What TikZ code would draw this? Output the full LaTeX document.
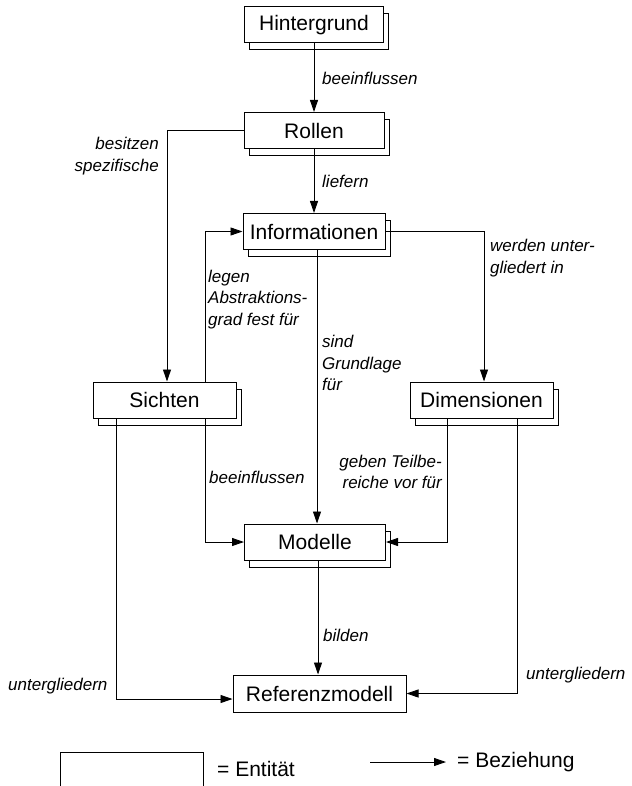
\documentclass[tikz,border=0pt]{standalone}
\usepackage{fontspec}
\setmainfont{Liberation Sans}
\usetikzlibrary{arrows.meta,shadows,calc}
\begin{document}
\begin{tikzpicture}[x=1pt,y=-1pt,
  entity/.style={draw=black,line width=1pt,fill=white,minimum height=36pt,
    inner sep=0pt,font=\fontsize{21}{25}\selectfont},
  stacked/.style={entity,general shadow={shadow xshift=5pt,shadow yshift=-7pt,
    draw=black,fill=white,line width=1pt}},
  rel/.style={draw=black,line width=0.9pt,-{Triangle[length=12pt,width=8pt]}},
  lbl/.style={font=\fontsize{17}{21.5}\selectfont\itshape,inner sep=0pt,align=left},
  lblr/.style={lbl,align=right},
  legendtext/.style={font=\fontsize{21}{25}\selectfont,inner sep=0pt}]
\useasboundingbox (0,0) rectangle (631,786);

% entities
\node[stacked,minimum width=139pt] (hint)    at (314,25)    {Hintergrund};
\node[stacked,minimum width=140pt] (rollen)  at (314,130.5) {Rollen};
\node[stacked,minimum width=142pt] (info)    at (314,231.5) {Informationen};
\node[stacked,minimum width=143pt] (sichten) at (164.5,400) {Sichten};
\node[stacked,minimum width=143pt] (dim)     at (481.5,400) {Dimensionen};
\node[stacked,minimum width=141pt] (modelle) at (315,542)   {Modelle};
\node[entity,minimum width=173pt,minimum height=37pt] (ref) at (319.5,693.5) {Referenzmodell};

% relations
\draw[rel] (hint.south) -- (rollen.north);
\draw[rel] (rollen.west) -| ([xshift=2.5pt]sichten.north);
\draw[rel] (rollen.south) -- (info.north);
\draw[rel] ([xshift=40.5pt]sichten.north) |- (info.west);
\draw[rel] (info.east) -| ([xshift=2.5pt]dim.north);
\draw[rel] ([xshift=3pt]info.south) -- ([xshift=3pt]info.south |- modelle.north);
\draw[rel] ([xshift=40.5pt]sichten.south) |- (modelle.west);
\draw[rel] ([xshift=-34.5pt]dim.south) |- (modelle.east);
\draw[rel] ([xshift=3pt]modelle.south) -- ([xshift=3pt]modelle.south |- ref.north);
\draw[rel] ([xshift=-48.5pt]sichten.south) |- ([yshift=-5.5pt]ref.west);
\draw[rel] ([xshift=35.5pt]dim.south) |- (ref.east);

% relation labels
\node[lbl,anchor=west]  (l1)  at (322,78)    {beeinflussen};
\node[lblr,anchor=east] (l2)  at (159,156)   {besitzen\\spezifische};
\node[lbl,anchor=west]  (l3)  at (322,181)   {liefern};
\node[lbl,anchor=west]  (l4)  at (208,299.5) {legen\\Abstraktions-\\grad fest für};
\node[lbl,anchor=west]  (l5)  at (490,258)   {werden unter-\\gliedert in};
\node[lbl,anchor=west]  (l6)  at (322,363)   {sind\\Grundlage\\für};
\node[lbl,anchor=west]  (l7)  at (209,477)   {beeinflussen};
\node[lblr,anchor=east] (l8)  at (442,472)   {geben Teilbe-\\reiche vor für};
\node[lbl,anchor=west]  (l9)  at (323,635)   {bilden};
\node[lbl,anchor=west]  (l10) at (8,686)     {untergliedern};
\node[lbl,anchor=west]  (l11) at (526,675)   {untergliedern};

% legend
\draw[line width=1pt] (60,790) -- (60,752) -- (203,752) -- (203,790);
\node[legendtext,anchor=west] (lent) at (217,769) {= Entität};
\coordinate (larr) at (370,762);
\node[legendtext,anchor=west] (lrel) at (457,762) {= Beziehung};
\draw[rel] (larr) -- ([xshift=-11pt]lrel.west);
\end{tikzpicture}
\end{document}
